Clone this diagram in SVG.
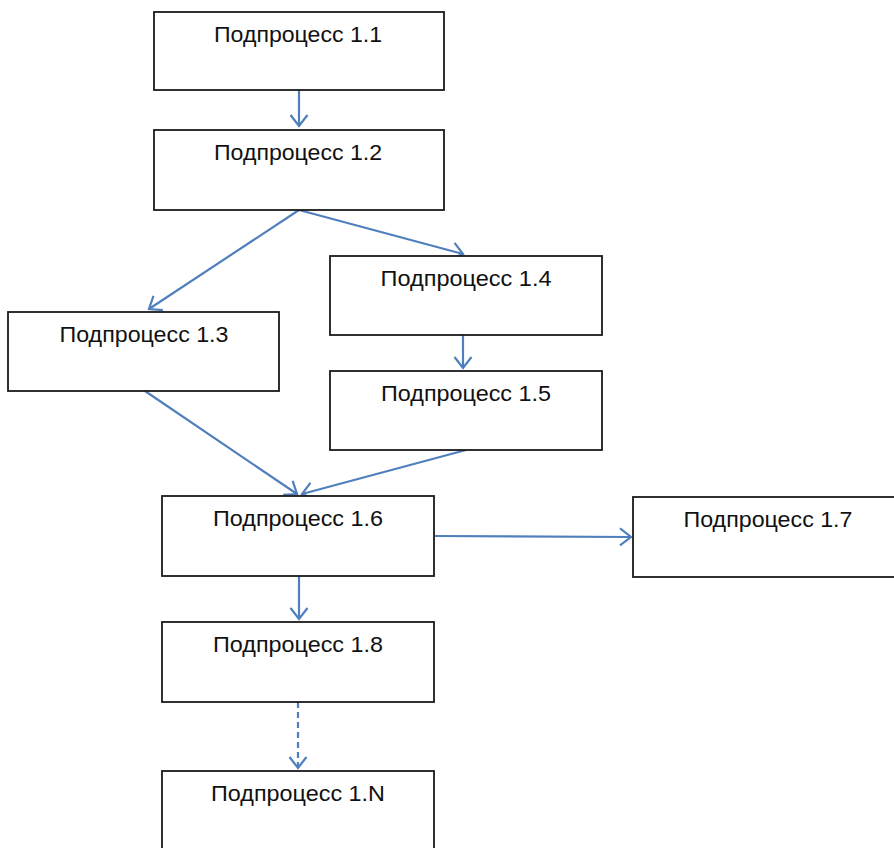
<svg xmlns="http://www.w3.org/2000/svg" width="894" height="848" viewBox="0 0 894 848">
<style>
.box{fill:#fff;stroke:#1a1a1a;stroke-width:1.8}
.lbl{font-family:"Liberation Sans",Arial,sans-serif;font-size:21.5px;fill:#111;text-anchor:middle}
.con{stroke:#4f7fbd;stroke-width:2.2;fill:none}
.dash{stroke-dasharray:6,4}
</style>
<defs>
<marker id="arr" markerUnits="userSpaceOnUse" markerWidth="16" markerHeight="20" refX="12" refY="10" orient="auto" viewBox="0 0 16 20">
<path d="M1,1.5 L12,10 L1,18.5" fill="none" stroke="#4f7fbd" stroke-width="2.2"/>
</marker>
</defs>
<rect width="894" height="848" fill="#fff"/>
<g id="connectors">
<line class="con" x1="299" y1="90" x2="299" y2="126" marker-end="url(#arr)"/>
<line class="con" x1="299" y1="210" x2="149" y2="309" marker-end="url(#arr)"/>
<line class="con" x1="299" y1="210" x2="463" y2="254" marker-end="url(#arr)"/>
<line class="con" x1="463" y1="335" x2="463" y2="368" marker-end="url(#arr)"/>
<line class="con" x1="145" y1="391" x2="297" y2="494" marker-end="url(#arr)"/>
<line class="con" x1="466" y1="450" x2="302" y2="494" marker-end="url(#arr)"/>
<line class="con" x1="435" y1="536" x2="631" y2="537" marker-end="url(#arr)"/>
<line class="con" x1="299" y1="576" x2="299" y2="619" marker-end="url(#arr)"/>
<line class="con dash" x1="298" y1="702" x2="298" y2="768" marker-end="url(#arr)"/>
</g>
<g id="n11"><rect class="box" x="154" y="12" width="290" height="78"/><text class="lbl" x="298" y="42" textLength="168" lengthAdjust="spacingAndGlyphs">Подпроцесс 1.1</text></g>
<g id="n12"><rect class="box" x="154" y="130" width="290" height="80"/><text class="lbl" x="298" y="160" textLength="168" lengthAdjust="spacingAndGlyphs">Подпроцесс 1.2</text></g>
<g id="n13"><rect class="box" x="8" y="312" width="271" height="79"/><text class="lbl" x="144" y="342" textLength="169" lengthAdjust="spacingAndGlyphs">Подпроцесс 1.3</text></g>
<g id="n14"><rect class="box" x="330" y="256" width="272" height="79"/><text class="lbl" x="466" y="286" textLength="171" lengthAdjust="spacingAndGlyphs">Подпроцесс 1.4</text></g>
<g id="n15"><rect class="box" x="330" y="371" width="272" height="79"/><text class="lbl" x="466" y="401" textLength="170" lengthAdjust="spacingAndGlyphs">Подпроцесс 1.5</text></g>
<g id="n16"><rect class="box" x="162" y="496" width="272" height="80"/><text class="lbl" x="298" y="526" textLength="170" lengthAdjust="spacingAndGlyphs">Подпроцесс 1.6</text></g>
<g id="n17"><rect class="box" x="633" y="497" width="272" height="80"/><text class="lbl" x="768" y="527" textLength="169" lengthAdjust="spacingAndGlyphs">Подпроцесс 1.7</text></g>
<g id="n18"><rect class="box" x="162" y="622" width="272" height="80"/><text class="lbl" x="298" y="652" textLength="170" lengthAdjust="spacingAndGlyphs">Подпроцесс 1.8</text></g>
<g id="n1N"><rect class="box" x="162" y="771" width="272" height="90"/><text class="lbl" x="298" y="801" textLength="174" lengthAdjust="spacingAndGlyphs">Подпроцесс 1.N</text></g>
</svg>
